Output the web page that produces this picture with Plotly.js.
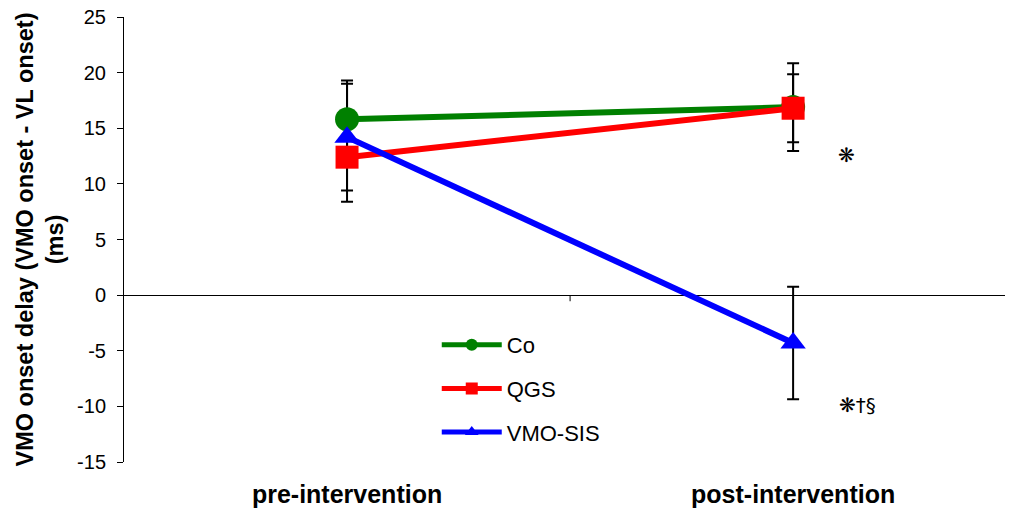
<!DOCTYPE html>
<html><head><meta charset="utf-8">
<script src="https://cdn.plot.ly/plotly-3.0.1.min.js"></script>
<style>body{margin:0;background:#fff}#c{width:1009px;height:510px}</style>
</head><body><div id="c"></div>
<script>
const categories = ["pre-intervention", "post-intervention"];
const coValues = [15.8, 16.9];
const coErr = [3.5, 3.95];
const qgsValues = [12.4, 16.8];
const qgsErr = [4.0, 3.05];
const vmoValues = [14.2, -4.3];
const vmoErr = [4.8, 5.05];
const seriesNames = ["Co", "QGS", "VMO-SIS"];
const yTicks = [-15, -10, -5, 0, 5, 10, 15, 20, 25];
const yTickText = ["-15", "-10", "-5", "0", "5", "10", "15", "20", "25"];
const notes = [{x: 1.12, y: 12.6, text: "❋"}, {x: 1.145, y: -9.9, text: "❋†§"}];

const font = "Arial, 'Liberation Sans', sans-serif";
function errTr(y, err) {
  return {
    x: categories, y: y, type: "scatter", mode: "markers", showlegend: false, hoverinfo: "skip",
    marker: {size: 1, opacity: 0},
    error_y: {type: "data", array: err, visible: true, color: "#000", thickness: 2, width: 6}
  };
}
function tr(name, y, color, symbol, size, grp) {
  return {
    x: categories, y: y, name: name, type: "scatter", mode: "lines+markers",
    legendgroup: grp,
    line: {color: color, width: 6},
    marker: {color: color, symbol: symbol, size: size}
  };
}
const data = [
  errTr(coValues, coErr), errTr(qgsValues, qgsErr), errTr(vmoValues, vmoErr),
  tr(seriesNames[0], coValues, "#008000", "circle", 24, "a"),
  tr(seriesNames[1], qgsValues, "#ff0000", "square", 23, "b"),
  tr(seriesNames[2], vmoValues, "#0000ff", "triangle-up", 22, "c")
];
const layout = {
  width: 1009, height: 510,
  margin: {l: 124, r: 4, t: 17, b: 48},
  paper_bgcolor: "#fff", plot_bgcolor: "#fff",
  font: {family: font, color: "#000"},
  showlegend: true,
  legend: {x: 0.355, xanchor: "left", y: 0.31, yanchor: "top", bgcolor: "rgba(0,0,0,0)",
           font: {size: 22, family: font}, tracegroupgap: 12, itemwidth: 60, itemsizing: "constant"},
  xaxis: {type: "category", range: [-0.5, 1.475], showline: false, showgrid: false, zeroline: false,
          ticks: "", tickfont: {size: 25, family: font, weight: "bold"},
          ticklabelstandoff: 15, fixedrange: true},
  yaxis: {range: [-15, 25], tickvals: yTicks, ticktext: yTickText, ticks: "outside", ticklen: 6, tickcolor: "#000",
          showline: true, linecolor: "#000", linewidth: 1, showgrid: false,
          zeroline: true, zerolinecolor: "#000", zerolinewidth: 1,
          tickfont: {size: 20, family: font}, ticklabelstandoff: 7,
          title: {text: "VMO onset delay (VMO onset - VL onset)<br>(ms)", font: {size: 23.5, family: font, weight: "bold"}, standoff: 6}},
  shapes: [{type: "line", xref: "x", yref: "y", x0: 0.5, x1: 0.5, y0: 0, y1: -0.55, line: {color: "#000", width: 1}}],
  annotations: notes.map(n => ({x: n.x, y: n.y, xref: "x", yref: "y", text: n.text, showarrow: false,
                                font: {size: 20, family: "'DejaVu Sans', sans-serif"}}))
};
Plotly.newPlot("c", data, layout, {displayModeBar: false, staticPlot: true});
</script></body></html>
